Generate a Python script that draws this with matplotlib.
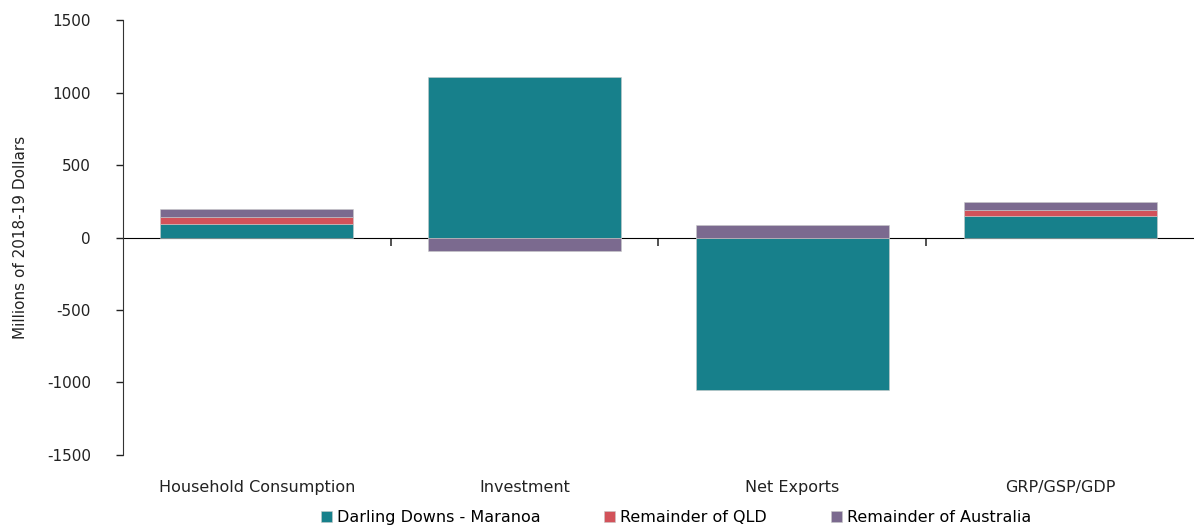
import numpy as np
import matplotlib
matplotlib.use("Agg")
from matplotlib import pyplot as plt

categories = ["Household Consumption", "Investment", "Net Exports", "GRP/GSP/GDP"]
series_names = ["Darling Downs - Maranoa", "Remainder of QLD", "Remainder of Australia"]
darling_downs = [90, 1105, -1050, 148]
remainder_qld = [55, -5, 0, 40]
remainder_aus = [55, -90, 84, 57]
colors = ["#17808B", "#D2525A", "#7B6A8F"]

plt.rcParams['font.family'] = ['DejaVu Sans']
plt.rcParams['axes.unicode_minus'] = False

fig = plt.figure(figsize=(11.94, 5.29), dpi=100)
ax = fig.add_axes([0.103, 0.140, 0.897, 0.822])

x = np.arange(len(categories))
series = [darling_downs, remainder_qld, remainder_aus]
pos_base = np.zeros(len(categories))
neg_base = np.zeros(len(categories))
for vals, name, col in zip(series, series_names, colors):
    vals = np.array(vals, dtype=float)
    base = np.where(vals >= 0, pos_base, neg_base)
    ax.bar(x, vals, bottom=base, width=0.72, color=col, label=name,
           edgecolor="#c8c8c8", linewidth=0.4)
    pos_base += np.where(vals >= 0, vals, 0)
    neg_base += np.where(vals < 0, vals, 0)

ax.set_xlim(-0.5, len(categories) - 0.5)
ax.set_ylim(-1500, 1500)
ax.set_yticks(np.arange(-1500, 1501, 500))
ax.tick_params(axis='y', labelsize=11, length=5, width=1, colors="#222222", pad=18)
ax.set_ylabel("Millions of 2018-19 Dollars", fontsize=11, color="#222222", labelpad=14)

for s in ["top", "right", "bottom"]:
    ax.spines[s].set_visible(False)
ax.spines["left"].set_color("#333333")

# category labels at bottom, no tick marks
ax.set_xticks(x)
ax.set_xticklabels(categories, fontsize=11.5, color="#222222")
ax.tick_params(axis='x', length=0, pad=18)

# zero line with boundary ticks pointing down
zero_ax = ax.secondary_xaxis(0.5)
zero_ax.spines["bottom"].set_color("#333333")
zero_ax.set_xticks(x[:-1] + 0.5)
zero_ax.set_xticklabels([])
zero_ax.tick_params(axis='x', direction='in', length=6, width=1.2, colors="#333333")

fig.legend(*ax.get_legend_handles_labels(), loc="lower center",
           bbox_to_anchor=(0.566, -0.02), ncol=3, frameon=False,
           fontsize=11.5, handlelength=0.7, handleheight=0.7, handletextpad=0.3,
           columnspacing=4.0)

fig.savefig("out.png", dpi=100)
